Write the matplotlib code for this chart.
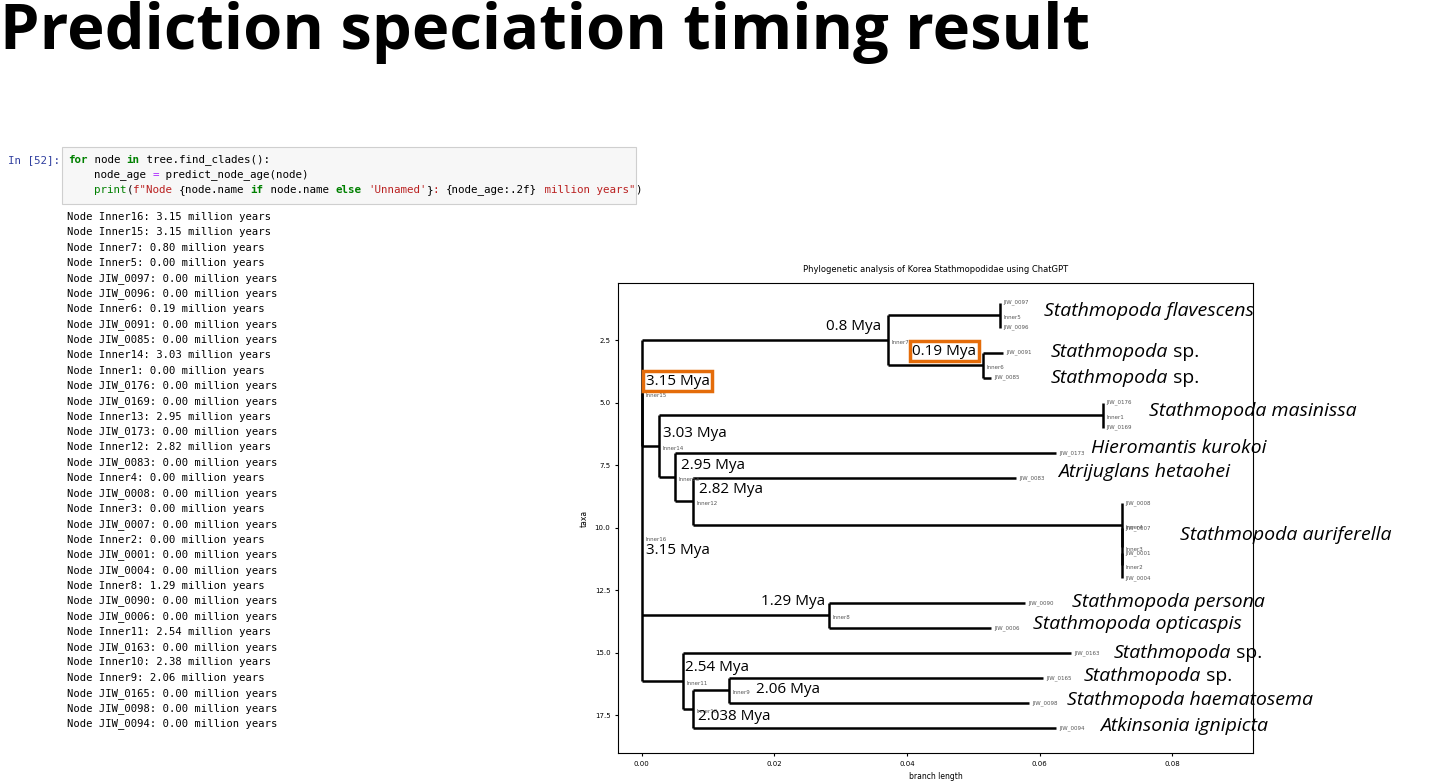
import matplotlib.pyplot as plt
from matplotlib.patches import Rectangle

# ---- notebook output ----
out_nodes = ['Inner16', 'Inner15', 'Inner7', 'Inner5', 'JIW_0097', 'JIW_0096', 'Inner6',
             'JIW_0091', 'JIW_0085', 'Inner14', 'Inner1', 'JIW_0176', 'JIW_0169', 'Inner13',
             'JIW_0173', 'Inner12', 'JIW_0083', 'Inner4', 'JIW_0008', 'Inner3', 'JIW_0007',
             'Inner2', 'JIW_0001', 'JIW_0004', 'Inner8', 'JIW_0090', 'JIW_0006', 'Inner11',
             'JIW_0163', 'Inner10', 'Inner9', 'JIW_0165', 'JIW_0098', 'JIW_0094']
out_ages = [3.15, 3.15, 0.80, 0.00, 0.00, 0.00, 0.19, 0.00, 0.00, 3.03, 0.00, 0.00, 0.00, 2.95,
            0.00, 2.82, 0.00, 0.00, 0.00, 0.00, 0.00, 0.00, 0.00, 0.00, 1.29, 0.00, 0.00, 2.54,
            0.00, 2.38, 2.06, 0.00, 0.00, 0.00]

# ---- tree: node -> (parent, x branch length, y taxa) ----
tree = {
    'Inner16': (None, 0.0, 10.37),
    'Inner15': ('Inner16', 0.0, 4.62),
    'Inner7': ('Inner15', 0.0371, 2.5),
    'Inner5': ('Inner7', 0.054, 1.5),
    'JIW_0097': ('Inner5', 0.054, 1),
    'JIW_0096': ('Inner5', 0.054, 2),
    'Inner6': ('Inner7', 0.0515, 3.5),
    'JIW_0091': ('Inner6', 0.0545, 3),
    'JIW_0085': ('Inner6', 0.0526, 4),
    'Inner14': ('Inner15', 0.0026, 6.73),
    'Inner1': ('Inner14', 0.0696, 5.5),
    'JIW_0176': ('Inner1', 0.0696, 5),
    'JIW_0169': ('Inner1', 0.0696, 6),
    'Inner13': ('Inner14', 0.005, 7.97),
    'JIW_0173': ('Inner13', 0.0625, 7),
    'Inner12': ('Inner13', 0.0077, 8.94),
    'JIW_0083': ('Inner12', 0.0565, 8),
    'Inner4': ('Inner12', 0.0725, 9.875),
    'JIW_0008': ('Inner4', 0.0725, 9),
    'Inner3': ('Inner4', 0.0725, 10.75),
    'JIW_0007': ('Inner3', 0.0725, 10),
    'Inner2': ('Inner3', 0.0725, 11.5),
    'JIW_0001': ('Inner2', 0.0725, 11),
    'JIW_0004': ('Inner2', 0.0725, 12),
    'Inner8': ('Inner16', 0.0282, 13.5),
    'JIW_0090': ('Inner8', 0.0578, 13),
    'JIW_0006': ('Inner8', 0.0526, 14),
    'Inner11': ('Inner16', 0.0062, 16.125),
    'JIW_0163': ('Inner11', 0.0648, 15),
    'Inner10': ('Inner11', 0.0077, 17.25),
    'Inner9': ('Inner10', 0.0131, 16.5),
    'JIW_0165': ('Inner9', 0.0605, 16),
    'JIW_0098': ('Inner9', 0.0584, 17),
    'JIW_0094': ('Inner10', 0.0625, 18),
}

mya_text = ['0.8 Mya', '0.19 Mya', '3.15 Mya', '3.03 Mya', '2.95 Mya', '2.82 Mya', '3.15 Mya',
            '1.29 Mya', '2.54 Mya', '2.06 Mya', '2.038 Mya']
mya_x = [0.0278, 0.0408, 0.0006, 0.0032, 0.0059, 0.0086, 0.0006, 0.018, 0.0065, 0.0172, 0.0085]
mya_y = [1.94, 2.94, 4.14, 6.22, 7.5, 8.46, 10.9, 12.94, 15.58, 16.46, 17.54]
mya_boxed = [False, True, True, False, False, False, False, False, False, False, False]

sp_genus = ['Stathmopoda flavescens', 'Stathmopoda', 'Stathmopoda', 'Stathmopoda masinissa',
            'Hieromantis kurokoi', 'Atrijuglans hetaohei', 'Stathmopoda auriferella',
            'Stathmopoda persona', 'Stathmopoda opticaspis', 'Stathmopoda', 'Stathmopoda',
            'Stathmopoda haematosema', 'Atkinsonia ignipicta']
sp_suffix = ['', ' sp.', ' sp.', '', '', '', '', '', '', ' sp.', ' sp.', '', '']
sp_x = [0.0607, 0.0616, 0.0616, 0.0765, 0.0678, 0.0628, 0.0812, 0.0649, 0.059, 0.0712, 0.0666,
        0.0642, 0.0691]
sp_y = [1.34, 2.98, 4.02, 5.34, 6.82, 7.78, 10.3, 12.98, 13.86, 15.02, 15.94, 16.9, 17.94]

W, H = 1434, 783
fig = plt.figure(figsize=(W / 100, H / 100), dpi=100)

def px(x, y):
    return x / W, 1 - y / H

fig.text(*px(0, 33), 'Prediction speciation timing result', fontsize=45.5, fontweight='bold',
         family='Open Sans', va='center', ha='left')

# code cell
fig.patches.append(Rectangle(px(62, 204), 574 / W, 57 / H, transform=fig.transFigure,
                             facecolor='#f7f7f7', edgecolor='#cfcfcf', lw=0.8))
fig.text(*px(8, 160), 'In [52]:', family='DejaVu Sans Mono', fontsize=7.8, color='#303F9F',
         va='center')
cw = 0.602 * 7.8 * 100 / 72
code_lines = [
    [('for', '#008000', 'bold'), (' node ', 'k', 'normal'), ('in', '#008000', 'bold'),
     (' tree.find_clades():', 'k', 'normal')],
    [('    node_age ', 'k', 'normal'), ('=', '#AA22FF', 'normal'),
     (' predict_node_age(node)', 'k', 'normal')],
    [('    ', 'k', 'normal'), ('print', '#008000', 'normal'), ('(', 'k', 'normal'),
     ('f"Node ', '#BA2121', 'normal'), ('{', 'k', 'normal'), ('node.name ', 'k', 'normal'),
     ('if', '#008000', 'bold'), (' node.name ', 'k', 'normal'), ('else', '#008000', 'bold'),
     (' ', 'k', 'normal'), ("'Unnamed'", '#BA2121', 'normal'), ('}', 'k', 'normal'),
     (': ', '#BA2121', 'normal'), ('{node_age:.2f}', 'k', 'normal'),
     (' million years"', '#BA2121', 'normal'), (')', 'k', 'normal')],
]
for i, segs in enumerate(code_lines):
    col = 0
    for s, c, w in segs:
        fig.text(*px(68 + col * cw, 160 + i * 15), s, family='DejaVu Sans Mono', fontsize=7.8,
                 color=c, fontweight=w, va='center')
        col += len(s)
for i, (n, a) in enumerate(zip(out_nodes, out_ages)):
    fig.text(*px(67, 217 + i * 15.36), f'Node {n}: {a:.2f} million years',
             family='DejaVu Sans Mono', fontsize=7.6, va='center')

# tree
ax = fig.add_axes([618 / W, 1 - 753 / H, 635 / W, 470 / H])
for n, (p, x, y) in tree.items():
    if p is None:
        continue
    ax.plot([tree[p][1], x], [y, y], color='k', lw=1.8, solid_capstyle='butt')
kids = {}
for n, (p, x, y) in tree.items():
    if p:
        kids.setdefault(p, []).append(y)
for p, ys in kids.items():
    ax.plot([tree[p][1]] * 2, [min(ys), max(ys)], color='k', lw=1.8, solid_capstyle='butt')
for n, (p, x, y) in tree.items():
    ax.text(x + 0.0005, y, n, fontsize=4, color='#555555', va='center' if n.startswith('J') else 'top')

for t, x, y, b in zip(mya_text, mya_x, mya_y, mya_boxed):
    kw = {}
    if b:
        kw['bbox'] = dict(facecolor='white', edgecolor='#E46C0A', lw=2.5, pad=2)
    ax.text(x, y, t, fontsize=11, va='center', ha='left', family='Open Sans', **kw)
for g, s, x, y in zip(sp_genus, sp_suffix, sp_x, sp_y):
    t = ax.text(x, y, g, fontsize=14, style='italic', va='center', family='Open Sans',
                clip_on=False)
    if s:
        ax.annotate(s, xy=(1, 0.5), xycoords=t, va='center', fontsize=14, family='Open Sans',
                    annotation_clip=False)

ax.set_xlim(-0.0036, 0.0922)
ax.set_ylim(19.0, 0.22)
ax.set_xticks([0, 0.02, 0.04, 0.06, 0.08])
ax.set_yticks([2.5, 5, 7.5, 10, 12.5, 15, 17.5])
ax.tick_params(labelsize=5, length=2)
ax.set_xlabel('branch length', fontsize=5.5)
ax.set_ylabel('taxa', fontsize=5.5)
ax.set_title('Phylogenetic analysis of Korea Stathmopodidae using ChatGPT', fontsize=6, pad=8)

fig.savefig('out.png', dpi=100)
